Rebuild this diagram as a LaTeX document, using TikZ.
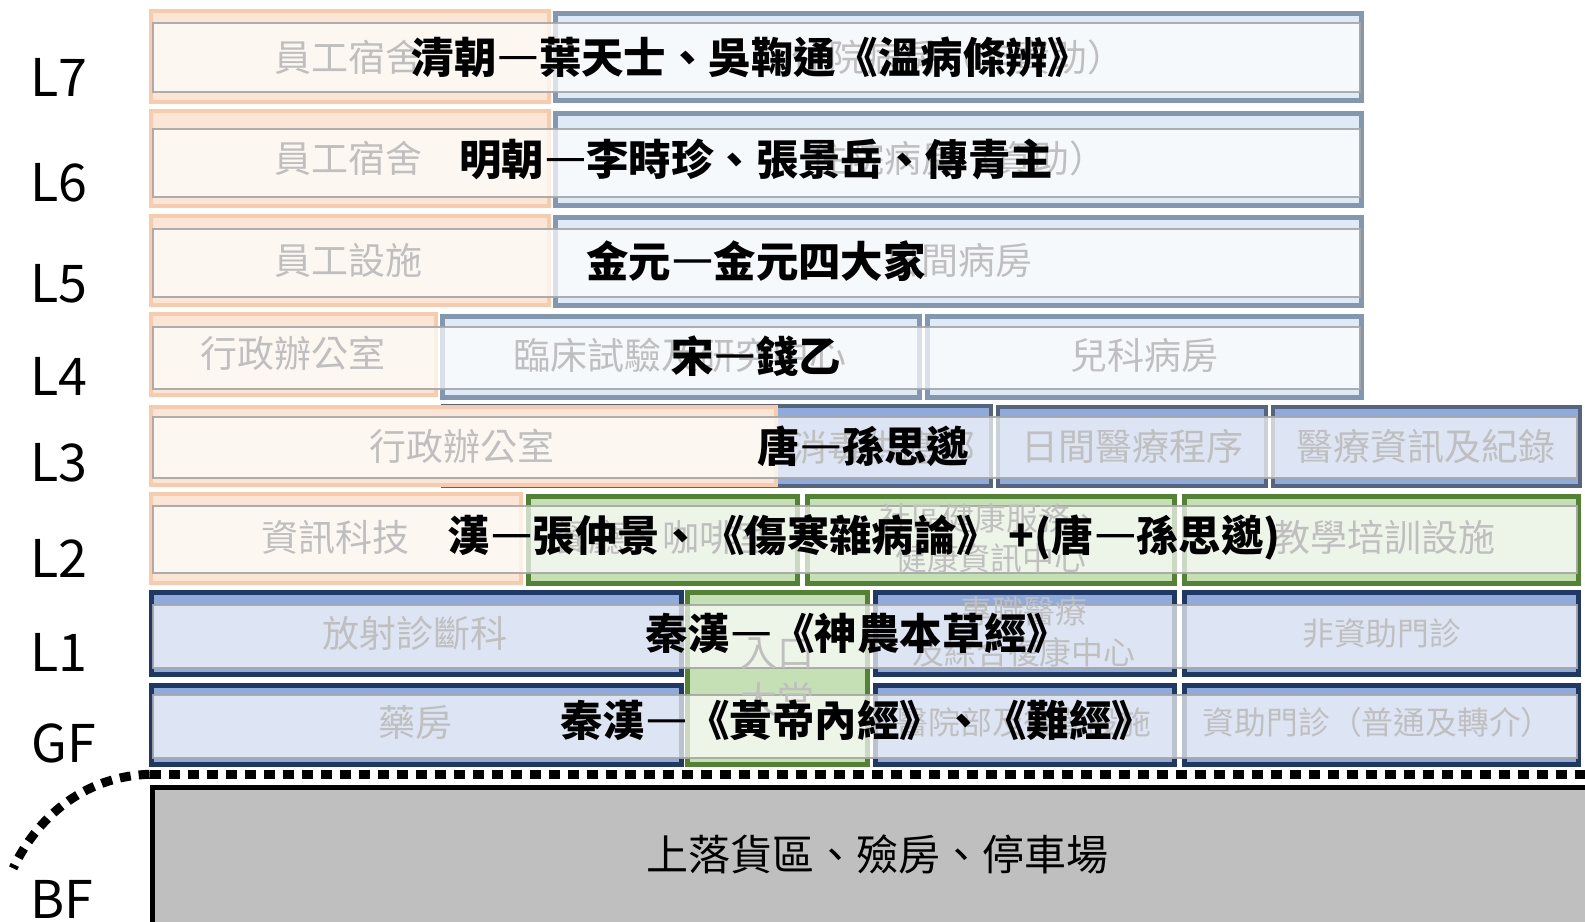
\documentclass[tikz,border=0pt]{standalone}
\usepackage{fontspec}
\setmainfont{Noto Sans CJK TC}
\usetikzlibrary{fit}
\definecolor{orbd}{HTML}{F8CBAD}
\definecolor{orfl}{HTML}{FBE5D6}
\definecolor{slbd}{HTML}{8497B0}
\definecolor{slfl}{HTML}{DEEBF7}
\definecolor{nvbd}{HTML}{1F3864}
\definecolor{nvfl}{HTML}{8FAADC}
\definecolor{lthbd}{HTML}{56657D}
\definecolor{gnbd}{HTML}{548235}
\definecolor{gnfl}{HTML}{C5E0B4}
\definecolor{ovbd}{HTML}{A6A6A6}
\definecolor{fdtx}{HTML}{BFBFBF}
\definecolor{bfgr}{HTML}{BFBFBF}
\newcommand\myroom[6]{\node[#1, inner sep=0pt, fit={(#3,#4) (#5,#6)}] (#2) {};}
\newcommand\fdash{{\addfontfeature{RawFeature=+fwid,FakeBold=2.5}—}}
\begin{document}
\begin{tikzpicture}[x=1.0108pt,y=-1.0108pt,
  orroom/.style={draw=orbd, line width=4pt, fill=orfl},
  slroom/.style={draw=slbd, line width=5pt, fill=slfl},
  nvroom/.style={draw=nvbd, line width=5pt, fill=nvfl},
  lthroom/.style={draw=lthbd, line width=4pt, fill=nvfl},
  gnroom/.style={draw=gnbd, line width=5pt, fill=gnfl},
  ovl/.style={draw=ovbd, line width=2pt, fill=white, fill opacity=0.7, draw opacity=0.9},
  fd/.style={text=fdtx, font=\fontsize{37}{41}\selectfont, inner sep=0pt, align=center},
  fds/.style={fd, font=\fontsize{31.8}{36}\selectfont},
  era/.style={font=\bfseries\fontsize{42.4}{46}\selectfont, inner sep=0pt},
  flr/.style={font=\fontsize{52}{56}\selectfont, inner sep=0pt},
  bfbox/.style={draw=black, line width=5pt, fill=bfgr},
  dl/.style={line width=9pt, dash pattern=on 11pt off 8pt},
]
\begin{scope}
\clip (0,0) rectangle (1568,911.2);
% ---- rooms ----
\myroom{orroom}{r7a}{149}{11}{543}{101}
\myroom{slroom}{r7b}{550}{13}{1347}{99}
\myroom{orroom}{r6a}{149}{110}{543}{204}
\myroom{slroom}{r6b}{550}{112}{1347}{203}
\myroom{orroom}{r5a}{149}{214}{543}{302}
\myroom{slroom}{r5b}{550}{215}{1347}{302}
\myroom{orroom}{r4a}{149}{311}{431}{391}
\myroom{slroom}{r4b}{438}{313}{910}{393}
\myroom{slroom}{r4c}{918}{313}{1347}{393}
\myroom{lthroom}{r3b}{438}{402}{980}{481}
\myroom{orroom}{r3a}{149}{403}{768}{480}
\myroom{lthroom}{r3c}{987}{403}{1252}{481}
\myroom{lthroom}{r3d}{1259}{403}{1563}{481}
\myroom{orroom}{r2a}{149}{489}{515}{577}
\myroom{gnroom}{r2b}{523}{491}{789}{577}
\myroom{gnroom}{r2c}{799}{491}{1162}{577}
\myroom{gnroom}{r2d}{1172}{491}{1562}{577}
\myroom{nvroom}{r1a}{150}{586}{674}{667}
\myroom{gnroom}{ent}{680}{586}{858}{756}
\myroom{nvroom}{r1c}{866}{586}{1162}{667}
\myroom{nvroom}{r1d}{1172}{586}{1562}{667}
\myroom{nvroom}{g1}{150}{678}{674}{756}
\myroom{nvroom}{g3}{866}{678}{1162}{756}
\myroom{nvroom}{g4}{1172}{678}{1562}{756}
% ---- overlays ----
\myroom{ovl}{o7}{151}{23}{1345}{91}
\myroom{ovl}{o6}{151}{128}{1345}{195}
\myroom{ovl}{o5}{151}{227}{1345}{294}
\myroom{ovl}{o4}{151}{323}{1345}{385}
\myroom{ovl}{o3}{151}{413}{1560}{473}
\myroom{ovl}{o2}{151}{501}{1560}{567}
\myroom{ovl}{o1}{151}{599}{1560}{661}
\myroom{ovl}{og}{151}{688}{1560}{750}
% ---- faded room names ----
\node[fd] (t7a) at (345,57) {員工宿舍};
\node[fd] (t7b) at (948,57) {住院病房（非資助）};
\node[fd] (t6a) at (345,157) {員工宿舍};
\node[fd] (t6b) at (948,157) {住院病房（資助）};
\node[fd] (t5a) at (345,258) {員工設施};
\node[fd] (t5b) at (948,258) {日間病房};
\node[fd] (t4a) at (290,350) {行政辦公室};
\node[fd] (t4b) at (673,352) {臨床試驗及研究中心};
\node[fd] (t4c) at (1132,352) {兒科病房};
\node[fd] (t3a) at (457,442) {行政辦公室};
\node[fd] (t3b) at (874,442) {消毒供應部};
\node[fd] (t3c) at (1120,442) {日間醫療程序};
\node[fd] (t3d) at (1411,442) {醫療資訊及紀錄};
\node[fd] (t2a) at (332,532) {資訊科技};
\node[fd] (t2b) at (655,532) {餐廳、咖啡室};
\node[fds] (t2c1) at (980,513) {社區健康服務、};
\node[fds] (t2c2) at (980,552) {健康資訊中心};
\node[fd] (t2d) at (1370,532) {教學培訓設施};
\node[fd] (t1a) at (411,627) {放射診斷科};
\node[fd] (te1) at (769,647) {入口};
\node[fd] (te2) at (769,692) {大堂};
\node[fds] (t1c1) at (1013,605) {專職醫療};
\node[fds] (t1c2) at (1013,645) {及綜合復康中心};
\node[fds] (t1d) at (1367,627) {非資助門診};
\node[fd] (tg1) at (411,715) {藥房};
\node[fds] (tg3) at (1013,715) {醫院部及後勤設施};
\node[fds] (tg4) at (1363,715) {資助門診（普通及轉介）};
% ---- era labels ----
\node[era] (e7) at (743,57) {清朝\fdash 葉天士、吳鞠通《溫病條辨》};
\node[era] (e6) at (748,158) {明朝\fdash 李時珍、張景岳、傳青主};
\node[era] (e5) at (748,258) {金元\fdash 金元四大家};
\node[era] (e4) at (748,352) {宋\fdash 錢乙};
\node[era] (e3) at (854,442) {唐\fdash 孫思邈};
\node[era] (e2) at (855,532) {漢\fdash 張仲景、《傷寒雜病論》 +(唐\fdash 孫思邈)};
\node[era] (e1) at (848,627) {秦漢\fdash 《神農本草經》};
\node[era] (eg) at (848,713) {秦漢\fdash 《黃帝內經》、《難經》};
% ---- basement ----
\myroom{bfbox}{bf}{151}{779}{1600}{940}
\node[font=\fontsize{42}{46}\selectfont, inner sep=0pt] (bft) at (868,845) {上落貨區、殮房、停車場};
\coordinate (ds) at (148,766);
\coordinate (de) at (1590,766);
\coordinate (ce) at (13,859);
\draw[dl] (ds) -- (de);
\draw[dl] (ds) .. controls (80,768) and (35,812) .. (ce);
% ---- floor labels ----
\node[flr] (f7) at (58,77) {L7};
\node[flr] (f6) at (58,181) {L6};
\node[flr] (f5) at (58,281) {L5};
\node[flr] (f4) at (58,372) {L4};
\node[flr] (f3) at (58,458) {L3};
\node[flr] (f2) at (58,552) {L2};
\node[flr] (f1) at (58,645) {L1};
\node[flr] (fg) at (63,735) {GF};
\node[flr] (fb) at (61,890) {BF};
\end{scope}
\pgfresetboundingbox
\useasboundingbox (0,0) rectangle (1568,911.2);
\end{tikzpicture}
\end{document}
